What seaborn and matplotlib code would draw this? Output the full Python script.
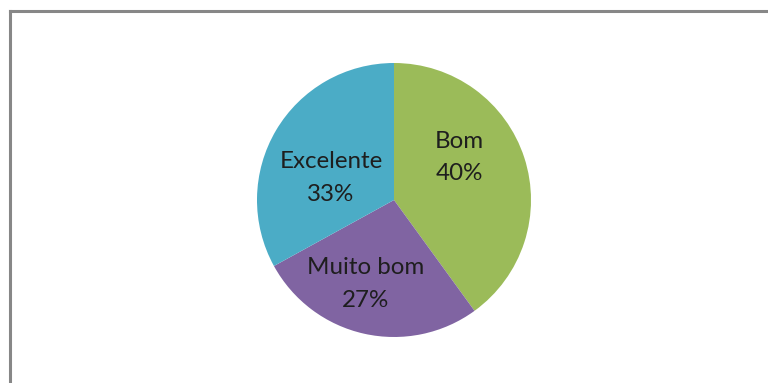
import matplotlib
matplotlib.use("Agg")
import matplotlib.pyplot as plt
from matplotlib.lines import Line2D
import seaborn as sns

categories = ["Bom", "Muito bom", "Excelente"]
values = [40, 27, 33]
colors = ["#9BBB59", "#8064A2", "#4BACC6"]
# label positions (axes data units, pie radius = 1)
label_pos = [(0.475, 0.31), (-0.205, -0.615), (-0.46, 0.16)]

sns.set_theme(style="white")
plt.rcParams["font.family"] = ["Lato", "DejaVu Sans"]

W, H = 768, 383
fig = plt.figure(figsize=(W / 100, H / 100), dpi=100)
fig.patch.set_facecolor("white")

cx, cy, r = 394, 200, 137
ax = fig.add_axes([(cx - r) / W, (H - cy - r) / H, 2 * r / W, 2 * r / H])
ax.pie(values, colors=colors, startangle=90, counterclock=False,
       wedgeprops=dict(linewidth=0), radius=1.0)
ax.set_xlim(-1, 1)
ax.set_ylim(-1, 1)
ax.set_aspect("equal")
ax.axis("off")

for cat, val, (x, y) in zip(categories, values, label_pos):
    ax.text(x, y, f"{cat}\n{val}%", ha="center", va="center",
            fontsize=17.4, color="#1e1e1e", linespacing=1.7)

# chart frame (partially visible, gray)
fx, fy = 9.5 / W, 1 - 10.5 / H
fig.add_artist(Line2D([fx, fx], [0, fy], transform=fig.transFigure,
                      color="#878787", linewidth=2.2, solid_capstyle="projecting"))
fig.add_artist(Line2D([fx, 1.01], [fy, fy], transform=fig.transFigure,
                      color="#878787", linewidth=2.2, solid_capstyle="projecting"))

fig.savefig("out.png", dpi=100, facecolor="white")
